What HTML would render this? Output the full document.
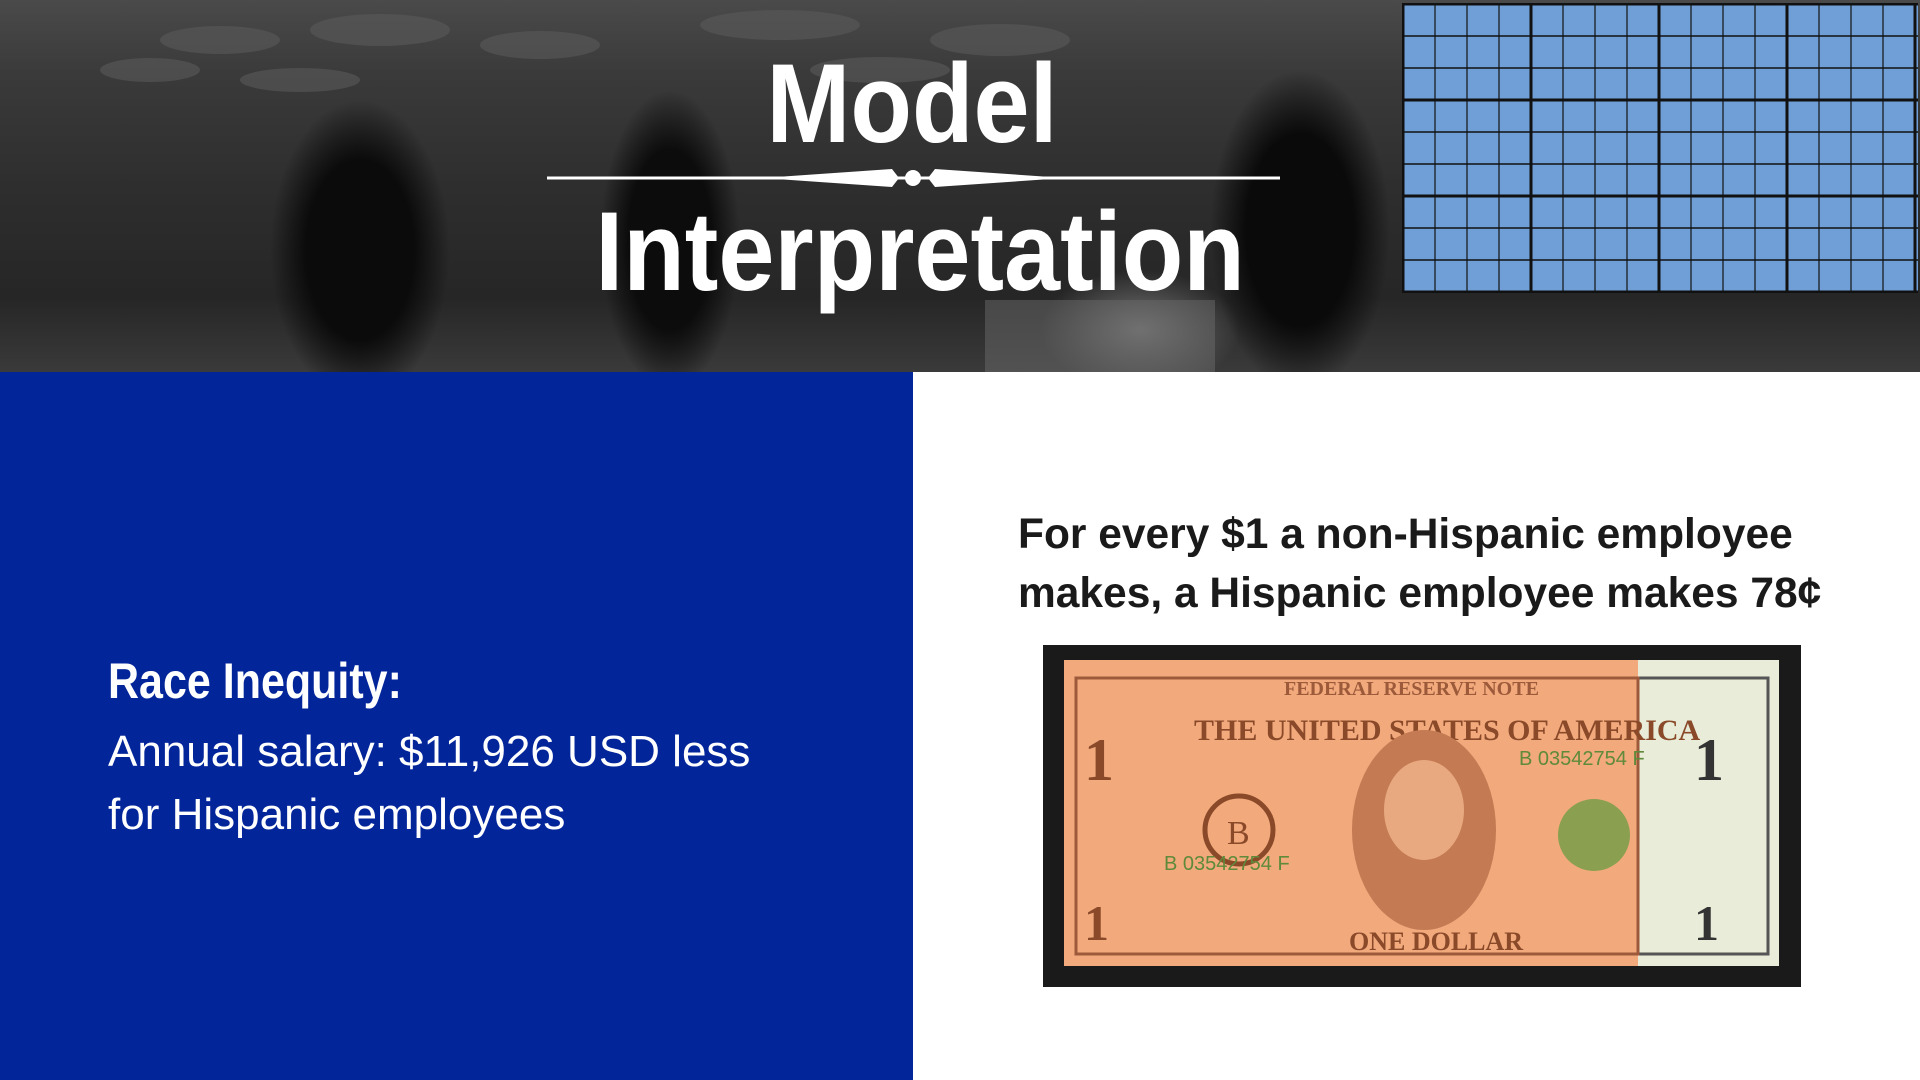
<!DOCTYPE html>
<html><head><meta charset="utf-8"><style>
body{margin:0;width:1920px;height:1080px;overflow:hidden;background:#fff;font-family:"Liberation Sans",sans-serif;position:relative}
#header{position:absolute;left:0;top:0;width:1920px;height:372px;overflow:hidden;
background:
radial-gradient(ellipse 90px 150px at 360px 250px,#0b0b0b 60%,transparent 100%),
radial-gradient(ellipse 70px 150px at 670px 240px,#0c0c0c 60%,transparent 100%),
radial-gradient(ellipse 90px 160px at 1300px 230px,#0a0a0a 60%,transparent 100%),
radial-gradient(ellipse 100px 60px at 1140px 330px,#777 0%,transparent 100%),
linear-gradient(180deg,#4a4a4a 0%,#3a3a3a 20%,#2e2e2e 50%,#262626 80%,#3a3a3a 100%);}
#blue{position:absolute;left:0;top:372px;width:913px;height:708px;background:#03259a}
.t{position:absolute;color:#fff;font-family:"Liberation Sans Narrow","Liberation Sans",sans-serif;font-weight:bold;white-space:nowrap}
</style></head><body>
<div id="header">
<svg width="1920" height="372" style="position:absolute;left:0;top:0">
<g fill="#5a5a5a" opacity="0.6">
<ellipse cx="220" cy="40" rx="60" ry="14"/><ellipse cx="380" cy="30" rx="70" ry="16"/><ellipse cx="540" cy="45" rx="60" ry="14"/><ellipse cx="780" cy="25" rx="80" ry="15"/><ellipse cx="1000" cy="40" rx="70" ry="16"/><ellipse cx="300" cy="80" rx="60" ry="12"/><ellipse cx="880" cy="70" rx="70" ry="13"/><ellipse cx="150" cy="70" rx="50" ry="12"/>
</g>
<rect x="985" y="300" width="230" height="72" fill="#6a6a6a" opacity="0.5"/>
</svg>
</div>
<svg width="516" height="290" style="position:absolute;left:1402px;top:3px">
<rect x="0" y="0" width="516" height="290" fill="#6f9fd6"/>
<g id="gl"></g>
</svg>
<div class="t" style="left:700px;top:48px;width:424px;text-align:center;font-size:112px;line-height:112px;transform:scaleX(0.9)">Model</div>
<svg width="740" height="40" style="position:absolute;left:547px;top:158px">
<line x1="0" y1="20" x2="733" y2="20" stroke="#fff" stroke-width="3"/>
<polygon points="215,20 345,11 352,20 345,29" fill="#fff"/>
<polygon points="518,20 388,11 381,20 388,29" fill="#fff"/>
<circle cx="366" cy="20" r="8" fill="#fff"/>
</svg>
<div class="t" style="left:560px;top:196px;width:704px;text-align:center;font-size:112px;line-height:112px;transform:scaleX(0.9)">Interpretation</div>
<div id="blue"></div>
<div class="t" style="left:108px;top:652px;font-size:50px;transform-origin:left;transform:scaleX(0.86)">Race Inequity:</div>
<div style="position:absolute;left:108px;top:720px;color:#fff;font-size:44px;line-height:63px;font-weight:300">Annual salary: $11,926 USD less<br>for Hispanic employees</div>
<div style="position:absolute;left:1018px;top:505px;color:#1a1a1a;font-size:42.5px;line-height:59px;font-weight:bold;white-space:nowrap">For every $1 a non-Hispanic employee<br>makes, a Hispanic employee makes 78¢</div>
<div style="position:absolute;left:1043px;top:645px;width:758px;height:342px;background:#1a1a1a"></div>
<svg width="715" height="306" style="position:absolute;left:1064px;top:660px">
<rect x="0" y="0" width="715" height="306" fill="#e8ecd8"/>
<rect x="12" y="18" width="692" height="276" fill="none" stroke="#555" stroke-width="3"/>
<rect x="0" y="0" width="574" height="306" fill="#f2a97c"/>
<rect x="12" y="18" width="562" height="276" fill="none" stroke="#9c5a3a" stroke-width="3"/>
<text x="220" y="35" font-family="Liberation Serif" font-weight="bold" font-size="20" fill="#9c5a3a">FEDERAL RESERVE NOTE</text>
<text x="130" y="80" font-family="Liberation Serif" font-weight="bold" font-size="30" fill="#8a4a2a">THE UNITED STATES OF AMERICA</text>
<ellipse cx="360" cy="170" rx="72" ry="100" fill="#c47a52"/>
<ellipse cx="360" cy="150" rx="40" ry="50" fill="#e8a980"/>
<circle cx="175" cy="170" r="34" fill="none" stroke="#8a4a2a" stroke-width="5"/>
<text x="163" y="184" font-family="Liberation Serif" font-size="34" fill="#8a4a2a">B</text>
<circle cx="530" cy="175" r="36" fill="#8aa050"/>
<text x="100" y="210" font-size="20" fill="#5e8a3a">B 03542754 F</text>
<text x="455" y="105" font-size="20" fill="#5e8a3a">B 03542754 F</text>
<text x="285" y="290" font-family="Liberation Serif" font-weight="bold" font-size="26" fill="#8a4a2a">ONE DOLLAR</text>
<text x="20" y="120" font-family="Liberation Serif" font-weight="bold" font-size="60" fill="#8a4a2a">1</text>
<text x="20" y="280" font-family="Liberation Serif" font-weight="bold" font-size="50" fill="#8a4a2a">1</text>
<text x="630" y="120" font-family="Liberation Serif" font-weight="bold" font-size="60" fill="#333">1</text>
<text x="630" y="280" font-family="Liberation Serif" font-weight="bold" font-size="50" fill="#333">1</text>
</svg>
<script>
var g=document.getElementById('gl');
for(var i=0;i<=16;i++){var l=document.createElementNS('http://www.w3.org/2000/svg','line');
l.setAttribute('x1',i*32+1);l.setAttribute('x2',i*32+1);l.setAttribute('y1',0);l.setAttribute('y2',290);
l.setAttribute('stroke','#111');l.setAttribute('stroke-width',i%4==0?3:1.2);g.appendChild(l);}
for(var j=0;j<=9;j++){var m=document.createElementNS('http://www.w3.org/2000/svg','line');
m.setAttribute('y1',j*32+1);m.setAttribute('y2',j*32+1);m.setAttribute('x1',0);m.setAttribute('x2',516);
m.setAttribute('stroke','#111');m.setAttribute('stroke-width',j%3==0?3:1.5);g.appendChild(m);}
</script>
</body></html>
